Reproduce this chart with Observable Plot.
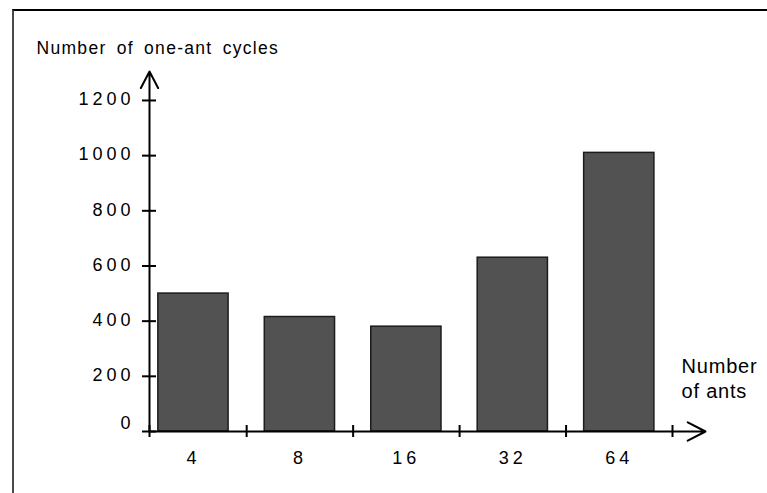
<!DOCTYPE html>
<html><head><meta charset="utf-8">
<script src="https://cdn.jsdelivr.net/npm/d3@7"></script>
<script src="https://cdn.jsdelivr.net/npm/@observablehq/plot@0.6"></script>
<style>
html,body{margin:0;padding:0;background:#fff;}
#wrap{position:relative;width:767px;height:493px;overflow:hidden;}
#wrap svg{position:absolute;left:0;top:0;}
#border{position:absolute;left:12px;top:9px;right:-10px;bottom:-10px;border-left:2px solid #4a4a4a;border-top:2px solid #000;pointer-events:none;}
</style></head><body>
<div id="wrap"></div>
<script>
// Data
const antCounts = ["4", "8", "16", "32", "64"];
const cycles = [500, 415, 380, 630, 1010];
const yTickValues = [0, 200, 400, 600, 800, 1000, 1200];
const yAxisTitle = "Number of one-ant cycles";
const xAxisTitle = "Number\nof ants";

const data = antCounts.map((c, i) => ({ants: c, i, cycles: cycles[i]}));
const x0 = -0.413;   // axes origin in category-index units
const xEnd = 4.81;   // x arrow tip
const yTop = 1305;   // y arrow tip
const boundaries = [x0, ...antCounts.map((_, i) => i + 0.5)];
const font = "'Liberation Sans', Arial, sans-serif";

const plot = Plot.plot({
  width: 767, height: 493,
  marginLeft: 149, marginRight: 62, marginTop: 71, marginBottom: 62,
  x: {type: "linear", domain: [x0, xEnd], axis: null},
  y: {type: "linear", domain: [0, yTop], axis: null},
  style: {fontFamily: font, color: "#000", background: "transparent", overflow: "visible"},
  marks: [
    Plot.rectY(data, {x1: d => d.i - 0.33, x2: d => d.i + 0.33, y1: () => 0, y2: "cycles",
      fill: "#525252", stroke: "#1c1c1c", strokeWidth: 1.5}),
    Plot.ruleY(yTickValues, {y: d => d, x1: () => x0, x2: () => x0, insetLeft: -7, insetRight: -7,
      stroke: "#000", strokeWidth: 2}),
    Plot.ruleX(boundaries, {x: d => d, y1: () => 0, y2: () => 0, insetTop: -6, insetBottom: -6,
      stroke: "#000", strokeWidth: 2}),
    Plot.arrow([0], {x1: () => x0, y1: () => 0, x2: () => x0, y2: () => yTop,
      stroke: "#000", strokeWidth: 2, headLength: 14, headAngle: 55}),
    Plot.arrow([0], {x1: () => x0, y1: () => 0, x2: () => xEnd, y2: () => 0,
      stroke: "#000", strokeWidth: 2, headLength: 15, headAngle: 55}),
    Plot.text(yTickValues.filter(v => v > 0), {x: () => x0, y: d => d, text: d => String(d),
      textAnchor: "end", dx: -15, dy: -1, fontSize: 18, fill: "#000"}),
    Plot.text(yTickValues.filter(v => v === 0), {x: () => x0, y: d => d, text: d => String(d),
      textAnchor: "end", dx: -15, dy: -8, fontSize: 18, fill: "#000"}),
    Plot.text(data, {x: "i", y: () => 0, text: "ants", dy: 27, fontSize: 18, fill: "#000"}),
    Plot.text([yAxisTitle], {frameAnchor: "top-left", text: d => d, textAnchor: "start",
      lineAnchor: "bottom", dx: -113, dy: -18, fontSize: 17.5, fill: "#000"}),
    Plot.text([xAxisTitle], {frameAnchor: "bottom-right", text: d => d, textAnchor: "start",
      lineAnchor: "bottom", dx: -24, dy: -34, fontSize: 20, lineHeight: 1.22, fill: "#000"})
  ]
});

d3.select(plot).selectAll("text").each(function() {
  const t = this.textContent;
  if (/^\d+$/.test(t)) this.style.letterSpacing = "4px";
  if (t === yAxisTitle) { this.style.letterSpacing = "1.3px"; this.style.wordSpacing = "4px"; }
});
d3.select(plot).selectAll("tspan").style("letter-spacing", "0.8px");

const wrap = document.getElementById("wrap");
wrap.appendChild(plot);
const border = document.createElement("div");
border.id = "border";
wrap.appendChild(border);
</script>
</body></html>
